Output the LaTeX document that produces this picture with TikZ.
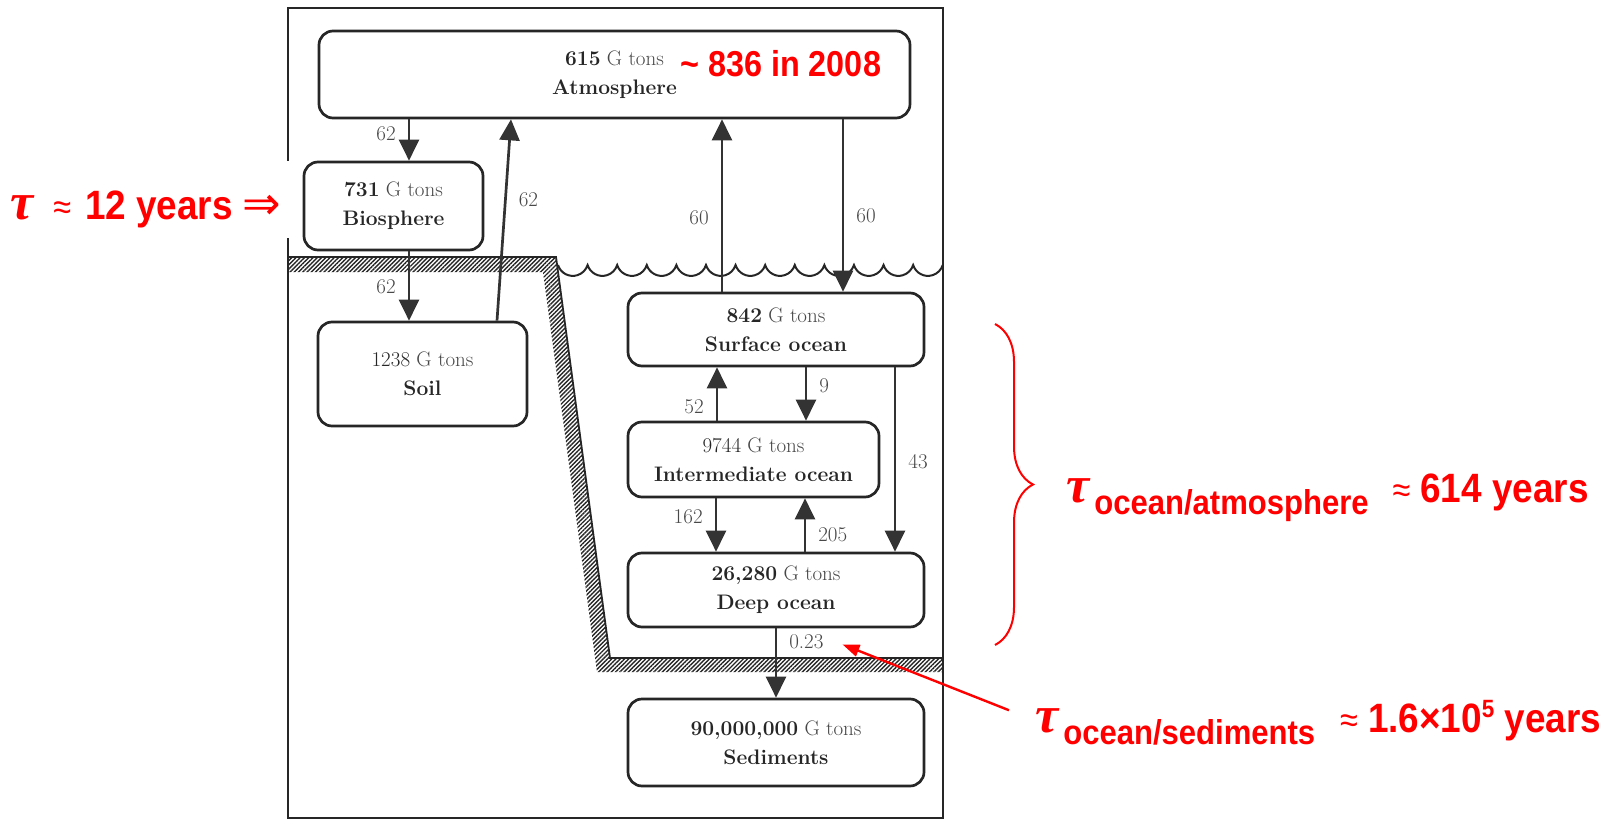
\documentclass[tikz,border=0pt]{standalone}
\usepackage{fontspec}
\usepackage{amsmath}
\usetikzlibrary{positioning, arrows.meta, patterns.meta, decorations.pathreplacing}
\newfontfamily\notefont[FakeStretch=0.9]{Liberation Sans}
\newfontfamily\taufont{Liberation Serif}
\newfontfamily\arrowfont{DejaVu Sans}
\definecolor{inkgray}{HTML}{262626}
\definecolor{tongray}{HTML}{484848}
\definecolor{flowgray}{HTML}{333333}
\definecolor{notered}{HTML}{FF0000}
\newcommand{\gtons}{{\color{tongray}G tons}}
\newcommand{\tauglyph}{{\taufont\itshape\bfseries\fontsize{52}{52}\selectfont τ}}
\newcommand{\approxglyph}{{\mdseries\fontsize{36}{36}\selectfont ≈}}
\newcommand{\subtxt}[1]{\raisebox{-12pt}{\fontsize{34.5}{34.5}\selectfont #1}}

\begin{document}
\begin{tikzpicture}[
  x=1pt, y=-1pt,
  font=\fontsize{21}{29}\selectfont,
  pool/.style={draw=inkgray, fill=white, line width=2.7pt, rounded corners=14pt,
               align=center, text=inkgray, inner sep=0pt},
  flow/.style={-{Triangle[length=21pt,width=20pt]}, line width=2.7pt, draw=flowgray},
  amt/.style={text=tongray, inner sep=12pt},
  frame/.style={draw=inkgray, line width=2.6pt},
  ground/.style={pattern={Lines[angle=45,distance=3pt,line width=1.4pt]},
                 pattern color=inkgray},
  note/.style={text=notered, inner sep=0pt,
               font=\notefont\bfseries\fontsize{41}{41}\selectfont},
  redarr/.style={-{Triangle[length=17pt,width=12pt]}, draw=notered, line width=2.4pt}
]
\useasboundingbox (0,0) rectangle (1622,821);

% frame, ground and sea surface
\draw[frame] (288,161) -- (288,8) -- (943,8) -- (943,818) -- (288,818) -- (288,238);
\fill[ground] (288,257) -- (556,257) -- (610,658) -- (943,658) -- (943,672)
  -- (597,672) -- (543,272) -- (288,272) -- cycle;
\draw[inkgray, line width=1.8pt] (288,257) -- (556,257) -- (610,658) -- (943,658);
\draw[inkgray, line width=2pt] (558,265)
  \foreach \i in {1,...,13} {arc[start angle=197.3, end angle=342.7, radius=15.5pt]};

% reservoirs
\node[pool, minimum width=591pt, minimum height=87pt] (atm) at (614.5,74.5)
  {\textbf{615} \gtons\\\textbf{Atmosphere}};
\node[pool, minimum width=179pt, minimum height=88pt] (bio) at (393.5,206)
  {\textbf{731} \gtons\\\textbf{Biosphere}};
\node[pool, minimum width=209pt, minimum height=104pt] (soil) at (422.5,374)
  {1238 \gtons\\\textbf{Soil}};
\node[pool, minimum width=296pt, minimum height=73pt] (surf) at (776,329.5)
  {\textbf{842} \gtons\\\textbf{Surface ocean}};
\node[pool, minimum width=251pt, minimum height=75pt] (inter) at (753.5,459.5)
  {9744 \gtons\\\textbf{Intermediate ocean}};
\node[pool, minimum width=296pt, minimum height=74pt] (deep) at (776,590)
  {\textbf{26,280} \gtons\\\textbf{Deep ocean}};
\node[pool, minimum width=296pt, minimum height=87pt] (sed) at (776,742.5)
  {\textbf{90,000,000} \gtons\\\textbf{Sediments}};

% fluxes
\draw[flow] ([xshift=15.5pt]bio.north |- atm.south) -- node[amt, left, pos=.36] (f1) {62} ([xshift=15.5pt]bio.north);
\draw[flow] ([xshift=74.5pt]soil.north) -- node[amt, right, pos=.6] (f2) {62} ([xshift=-103.5pt]atm.south);
\draw[flow] ([xshift=15.5pt]bio.south) -- node[amt, left, pos=.51] (f3) {62} ([xshift=15.5pt]bio.south |- soil.north);
\draw[flow] ([xshift=-54pt]surf.north) -- node[amt, left, pos=.43] (f4) {60} ([xshift=-54pt]surf.north |- atm.south);
\draw[flow] ([xshift=67pt]surf.north |- atm.south) -- node[amt, right, pos=.56] (f5) {60} ([xshift=67pt]surf.north);
\draw[flow] ([xshift=-36.5pt]inter.north) -- node[amt, left, pos=.27] (f6) {52} ([xshift=-36.5pt]inter.north |- surf.south);
\draw[flow] ([xshift=30pt]surf.south) -- node[amt, right, pos=.34] (f7) {9} ([xshift=30pt]surf.south |- inter.north);
\draw[flow] ([xshift=119pt]surf.south) -- node[amt, right, pos=.51] (f8) {43} ([xshift=119pt]deep.north);
\draw[flow] ([xshift=-37.5pt]inter.south) -- node[amt, left, pos=.34] (f9) {162} ([xshift=-37.5pt]inter.south |- deep.north);
\draw[flow] ([xshift=29pt]deep.north) -- node[amt, right, pos=.32] (f10) {205} ([xshift=29pt]deep.north |- inter.south);
\draw[flow] (deep.south) -- node[amt, right, pos=.2] (l023) {0.23} (sed.north);

% residence times
\node[note, anchor=base west, font=\notefont\bfseries\fontsize{36}{36}\selectfont] (atmnote) at (680,76.5)
  {\textasciitilde\ 836 in 2008};
\node[note, anchor=base west] (biotau) at (10,220)
  {\tauglyph\hspace{20pt}\approxglyph\hspace{14pt}12 years\hspace{10pt}{\arrowfont\mdseries\fontsize{46}{46}\selectfont ⇒}};
\node[note, anchor=base west] (atmtau) at (1066,502)
  {\tauglyph\hspace{5pt}\subtxt{ocean/atmosphere}\hspace{24pt}\approxglyph\hspace{10pt}614 years};
\node[note, anchor=base west] (sedtau) at (1035,732)
  {\tauglyph\hspace{5pt}\subtxt{ocean/sediments}\hspace{25pt}\approxglyph\hspace{10pt}1.6×10\raisebox{15pt}{\fontsize{25}{25}\selectfont 5} years};
\draw[notered, line width=2pt, decorate, decoration={brace, amplitude=38pt}] (995,324) -- (995,645);
\draw[redarr, shorten >=6pt] ([xshift=-26pt,yshift=12pt]sedtau.west) -- (l023.east);
\end{tikzpicture}
\end{document}
